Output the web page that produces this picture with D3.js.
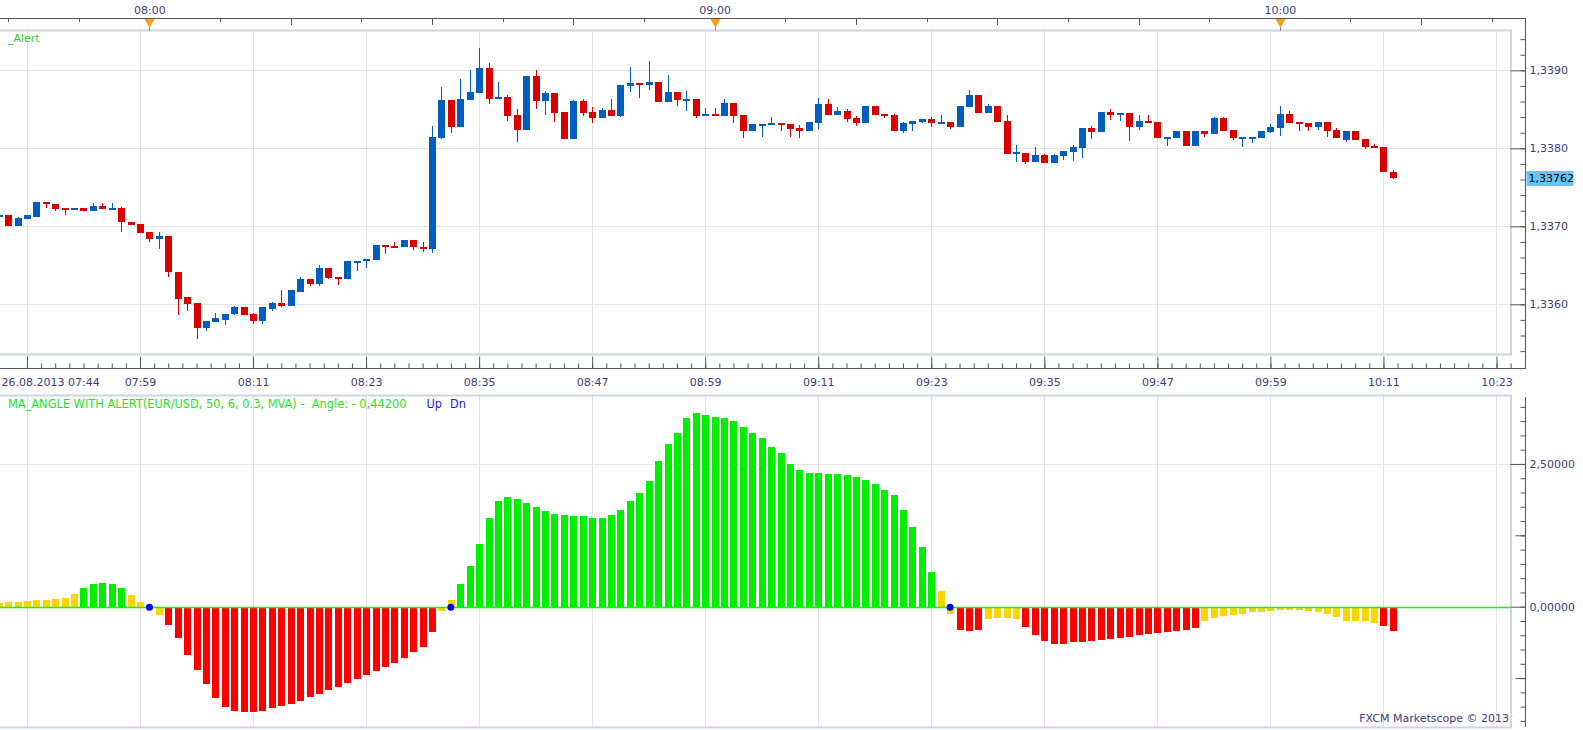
<!DOCTYPE html>
<html lang="en">
<head>
  <meta charset="UTF-8">
  <title>EUR/USD - MA_ANGLE WITH ALERT</title>
  <style>
    body {
      margin: 0;
      background: #fff;
    }
    text {
      font-family: "DejaVu Sans", sans-serif;
      font-size: 11px;
    }
  </style>
</head>
<body>
<div id="chart"></div>
<script src="https://d3js.org/d3.v7.min.js"></script>
<script type="text/javascript">

  // EUR/USD 1 minute candles, 26.08.2013, one entry per candle
  const openP = [
    1.33712, 1.33714, 1.33701, 1.33710, 1.33712, 1.33731, 1.33729, 1.33724, 1.33721, 1.33724,
    1.33720, 1.33726, 1.33722, 1.33724, 1.33706, 1.33703, 1.33693, 1.33684, 1.33687, 1.33642,
    1.33609, 1.33602, 1.33569, 1.33577, 1.33580, 1.33587, 1.33597, 1.33587, 1.33579, 1.33594,
    1.33602, 1.33598, 1.33616, 1.33633, 1.33626, 1.33647, 1.33635, 1.33633, 1.33653, 1.33655,
    1.33657, 1.33676, 1.33675, 1.33673, 1.33682, 1.33674, 1.33671, 1.33813, 1.33862, 1.33827,
    1.33862, 1.33871, 1.33903, 1.33863, 1.33866, 1.33843, 1.33824, 1.33893, 1.33861, 1.33871,
    1.33847, 1.33812, 1.33861, 1.33847, 1.33839, 1.33849, 1.33842, 1.33880, 1.33884, 1.33881,
    1.33885, 1.33859, 1.33872, 1.33862, 1.33863, 1.33842, 1.33844, 1.33842, 1.33858, 1.33843,
    1.33822, 1.33830, 1.33830, 1.33833, 1.33831, 1.33826, 1.33822, 1.33833, 1.33857, 1.33843,
    1.33848, 1.33839, 1.33833, 1.33854, 1.33844, 1.33843, 1.33822, 1.33831, 1.33834, 1.33838,
    1.33833, 1.33834, 1.33827, 1.33853, 1.33868, 1.33845, 1.33854, 1.33835, 1.33794, 1.33794,
    1.33783, 1.33792, 1.33781, 1.33790, 1.33795, 1.33801, 1.33826, 1.33821, 1.33847, 1.33843,
    1.33845, 1.33827, 1.33835, 1.33834, 1.33813, 1.33813, 1.33822, 1.33803, 1.33822, 1.33818,
    1.33839, 1.33824, 1.33813, 1.33813, 1.33813, 1.33821, 1.33826, 1.33844, 1.33834, 1.33833,
    1.33827, 1.33834, 1.33824, 1.33811, 1.33822, 1.33812, 1.33803, 1.33802, 1.33770
  ];
  const highP = [
    1.33714, 1.33714, 1.33712, 1.33714, 1.33731, 1.33731, 1.33729, 1.33724, 1.33724, 1.33724,
    1.33730, 1.33730, 1.33730, 1.33725, 1.33706, 1.33703, 1.33693, 1.33693, 1.33687, 1.33642,
    1.33610, 1.33602, 1.33578, 1.33589, 1.33588, 1.33598, 1.33597, 1.33589, 1.33596, 1.33603,
    1.33618, 1.33618, 1.33635, 1.33633, 1.33650, 1.33647, 1.33635, 1.33655, 1.33656, 1.33658,
    1.33676, 1.33676, 1.33680, 1.33682, 1.33682, 1.33680, 1.33829, 1.33879, 1.33862, 1.33889,
    1.33900, 1.33929, 1.33909, 1.33885, 1.33868, 1.33850, 1.33893, 1.33900, 1.33874, 1.33871,
    1.33847, 1.33862, 1.33863, 1.33853, 1.33852, 1.33863, 1.33881, 1.33904, 1.33884, 1.33912,
    1.33885, 1.33894, 1.33872, 1.33874, 1.33863, 1.33852, 1.33852, 1.33863, 1.33858, 1.33843,
    1.33831, 1.33831, 1.33840, 1.33833, 1.33831, 1.33830, 1.33834, 1.33865, 1.33863, 1.33853,
    1.33850, 1.33842, 1.33854, 1.33854, 1.33844, 1.33844, 1.33834, 1.33835, 1.33838, 1.33840,
    1.33843, 1.33834, 1.33854, 1.33875, 1.33868, 1.33857, 1.33854, 1.33843, 1.33804, 1.33794,
    1.33802, 1.33793, 1.33793, 1.33797, 1.33804, 1.33826, 1.33829, 1.33847, 1.33850, 1.33845,
    1.33845, 1.33843, 1.33843, 1.33834, 1.33815, 1.33822, 1.33822, 1.33822, 1.33822, 1.33840,
    1.33840, 1.33824, 1.33815, 1.33815, 1.33822, 1.33831, 1.33854, 1.33848, 1.33834, 1.33833,
    1.33834, 1.33834, 1.33826, 1.33822, 1.33822, 1.33812, 1.33806, 1.33802, 1.33772
  ];
  const lowP = [
    1.33712, 1.33701, 1.33701, 1.33710, 1.33712, 1.33724, 1.33720, 1.33714, 1.33721, 1.33720,
    1.33719, 1.33722, 1.33722, 1.33693, 1.33702, 1.33692, 1.33680, 1.33671, 1.33635, 1.33586,
    1.33592, 1.33555, 1.33566, 1.33577, 1.33574, 1.33586, 1.33586, 1.33575, 1.33575, 1.33592,
    1.33596, 1.33598, 1.33616, 1.33624, 1.33624, 1.33633, 1.33625, 1.33633, 1.33643, 1.33646,
    1.33657, 1.33664, 1.33673, 1.33673, 1.33670, 1.33667, 1.33666, 1.33812, 1.33820, 1.33827,
    1.33862, 1.33871, 1.33857, 1.33863, 1.33835, 1.33808, 1.33824, 1.33850, 1.33843, 1.33834,
    1.33812, 1.33812, 1.33842, 1.33833, 1.33839, 1.33842, 1.33840, 1.33872, 1.33865, 1.33875,
    1.33859, 1.33859, 1.33854, 1.33848, 1.33839, 1.33842, 1.33842, 1.33842, 1.33833, 1.33813,
    1.33822, 1.33815, 1.33830, 1.33822, 1.33815, 1.33813, 1.33822, 1.33825, 1.33843, 1.33843,
    1.33834, 1.33829, 1.33833, 1.33843, 1.33839, 1.33822, 1.33820, 1.33822, 1.33833, 1.33827,
    1.33833, 1.33825, 1.33827, 1.33853, 1.33845, 1.33845, 1.33834, 1.33793, 1.33783, 1.33780,
    1.33783, 1.33781, 1.33781, 1.33785, 1.33784, 1.33788, 1.33812, 1.33821, 1.33836, 1.33835,
    1.33810, 1.33824, 1.33833, 1.33813, 1.33803, 1.33813, 1.33803, 1.33803, 1.33815, 1.33818,
    1.33822, 1.33811, 1.33802, 1.33807, 1.33813, 1.33820, 1.33816, 1.33833, 1.33822, 1.33822,
    1.33824, 1.33815, 1.33813, 1.33808, 1.33811, 1.33799, 1.33801, 1.33769, 1.33761
  ];
  const closeP = [
    1.33714, 1.33701, 1.33711, 1.33714, 1.33731, 1.33728, 1.33722, 1.33721, 1.33724, 1.33720,
    1.33726, 1.33722, 1.33724, 1.33705, 1.33702, 1.33692, 1.33684, 1.33687, 1.33641, 1.33607,
    1.33601, 1.33569, 1.33578, 1.33582, 1.33588, 1.33597, 1.33586, 1.33579, 1.33596, 1.33602,
    1.33598, 1.33618, 1.33633, 1.33626, 1.33647, 1.33634, 1.33633, 1.33655, 1.33656, 1.33658,
    1.33676, 1.33674, 1.33673, 1.33682, 1.33673, 1.33671, 1.33815, 1.33862, 1.33827, 1.33863,
    1.33872, 1.33903, 1.33863, 1.33866, 1.33842, 1.33824, 1.33893, 1.33861, 1.33871, 1.33845,
    1.33812, 1.33861, 1.33845, 1.33839, 1.33849, 1.33842, 1.33881, 1.33884, 1.33881, 1.33885,
    1.33859, 1.33872, 1.33862, 1.33863, 1.33842, 1.33844, 1.33842, 1.33858, 1.33842, 1.33822,
    1.33831, 1.33831, 1.33833, 1.33830, 1.33825, 1.33822, 1.33834, 1.33857, 1.33843, 1.33848,
    1.33838, 1.33833, 1.33854, 1.33843, 1.33842, 1.33822, 1.33833, 1.33835, 1.33838, 1.33833,
    1.33834, 1.33827, 1.33854, 1.33868, 1.33845, 1.33854, 1.33834, 1.33793, 1.33795, 1.33783,
    1.33792, 1.33781, 1.33792, 1.33797, 1.33802, 1.33826, 1.33821, 1.33847, 1.33843, 1.33845,
    1.33827, 1.33835, 1.33833, 1.33813, 1.33815, 1.33822, 1.33803, 1.33822, 1.33818, 1.33839,
    1.33822, 1.33813, 1.33815, 1.33815, 1.33822, 1.33827, 1.33844, 1.33833, 1.33831, 1.33827,
    1.33834, 1.33822, 1.33813, 1.33822, 1.33811, 1.33802, 1.33801, 1.33769, 1.33762
  ];

  // MA angle histogram, one value per candle
  const angle = [
    0.07, 0.08, 0.09, 0.10, 0.11, 0.12, 0.14, 0.16,
    0.22, 0.33, 0.40, 0.42, 0.40, 0.33, 0.20, 0.08,
    -0.02, -0.14, -0.32, -0.55, -0.85, -1.10, -1.35, -1.60,
    -1.75, -1.83, -1.85, -1.84, -1.82, -1.78, -1.74, -1.70,
    -1.65, -1.58, -1.52, -1.46, -1.40, -1.33, -1.27, -1.20,
    -1.13, -1.06, -0.98, -0.90, -0.80, -0.70, -0.45, -0.08,
    0.12, 0.40, 0.72, 1.10, 1.55, 1.85, 1.92, 1.88,
    1.82, 1.75, 1.68, 1.62, 1.60, 1.58, 1.58, 1.55,
    1.55, 1.60, 1.70, 1.85, 2.00, 2.20, 2.55, 2.85,
    3.05, 3.30, 3.40, 3.36, 3.33, 3.30, 3.25, 3.15,
    3.05, 2.95, 2.80, 2.70, 2.50, 2.40, 2.35, 2.35,
    2.33, 2.33, 2.30, 2.28, 2.22, 2.15, 2.05, 1.95,
    1.70, 1.40, 1.05, 0.60, 0.27, -0.12, -0.40, -0.42,
    -0.40, -0.22, -0.20, -0.20, -0.22, -0.35, -0.50, -0.60,
    -0.65, -0.65, -0.62, -0.62, -0.60, -0.58, -0.56, -0.55,
    -0.53, -0.50, -0.48, -0.46, -0.45, -0.42, -0.40, -0.38,
    -0.25, -0.20, -0.17, -0.15, -0.12, -0.10, -0.10, -0.08, -0.06, -0.06,
    -0.06, -0.07, -0.09, -0.12, -0.175, -0.245, -0.245, -0.245, -0.28, -0.33, -0.42
  ];
  const threshold = 0.3;          // indicator parameter: |angle| above it is a trend
  const alertIdx = [16, 48, 101]; // zero-cross alert dots (candle index)

  // axis labels
  const bottomLabels = ["26.08.2013 07:44", "07:59", "08:11", "08:23", "08:35", "08:47", "08:59",
                        "09:11", "09:23", "09:35", "09:47", "09:59", "10:11", "10:23"];
  const topLabels = ["08:00", "09:00", "10:00"];
  const topLabelIdx = [16, 76, 136];
  const priceTicks = [1.3360, 1.3370, 1.3380, 1.3390];
  const angleTicks = [0, 2.5];
  const lastPrice = 1.33762;

  // sizes
  var w = 1583;
  var h = 730;
  var plotRight = 1511;
  var axisX = 1525.5;
  var main = {top: 31, bottom: 355};
  var ind = {top: 396, bottom: 728};
  var textColor = "#3d3d7a";
  var gridColor = "#e3e3e3";

  var svg = d3.select("#chart")
          .append("svg")
          .attr("width", w)
          .attr("height", h);

  // scales: candle index -> x, price -> y, angle -> y
  const x = d3.scaleLinear().domain([0, 160]).range([-1.3, 1505.9]);
  const yP = d3.scaleLinear().domain([1.33535, 1.339504]).range([main.bottom, main.top]);
  const yA = d3.scaleLinear().domain([-2.124, 3.69]).range([ind.bottom, ind.top]);

  const data = openP.map((o, i) => ({i: i, o: o, h: highP[i], l: lowP[i], c: closeP[i], a: angle[i]}));
  const gridIdx = bottomLabels.map((d, j) => 3 + 12 * j);

  // clip paths for the two panels
  var defs = svg.append("defs");
  defs.append("clipPath").attr("id", "clipMain")
          .append("rect").attr("x", 0).attr("y", main.top).attr("width", plotRight).attr("height", main.bottom - main.top);
  defs.append("clipPath").attr("id", "clipInd")
          .append("rect").attr("x", 0).attr("y", ind.top).attr("width", plotRight).attr("height", ind.bottom - ind.top);

  // ---------- grid ----------
  function vGrid(panel) {
    svg.append("g")
            .selectAll("line")
            .data(gridIdx.filter(n => x(n) < plotRight))
            .enter()
            .append("line")
            .attr("x1", d => Math.round(x(d)) + 0.5)
            .attr("x2", d => Math.round(x(d)) + 0.5)
            .attr("y1", panel.top)
            .attr("y2", panel.bottom)
            .attr("stroke", gridColor);
  }
  vGrid(main);
  vGrid(ind);

  svg.append("g")
          .selectAll("line")
          .data(priceTicks)
          .enter()
          .append("line")
          .attr("x1", 0)
          .attr("x2", plotRight)
          .attr("y1", d => Math.round(yP(d)) + 0.5)
          .attr("y2", d => Math.round(yP(d)) + 0.5)
          .attr("stroke", gridColor);

  svg.append("line")
          .attr("x1", 0)
          .attr("x2", plotRight)
          .attr("y1", Math.round(yA(2.5)) + 0.5)
          .attr("y2", Math.round(yA(2.5)) + 0.5)
          .attr("stroke", gridColor);

  // ---------- candles ----------
  var candles = svg.append("g")
          .attr("clip-path", "url(#clipMain)")
          .attr("shape-rendering", "crispEdges")
          .selectAll("g")
          .data(data)
          .enter()
          .append("g")
          .attr("fill", d => d.c >= d.o ? "#005ebf" : "#db0000")
          .attr("stroke", "none");

  candles.append("rect")
          .attr("x", d => Math.round(x(d.i)))
          .attr("width", 1)
          .attr("y", d => yP(d.h))
          .attr("height", d => Math.max(1, yP(d.l) - yP(d.h)));

  candles.append("rect")
          .attr("x", d => Math.round(x(d.i)) - 3)
          .attr("width", 7)
          .attr("y", d => yP(Math.max(d.o, d.c)))
          .attr("height", d => Math.max(2, Math.abs(yP(d.o) - yP(d.c))));

  // ---------- MA angle histogram ----------
  function barColor(v) {
    if (v > threshold) return "#00f000";
    if (v < -threshold) return "#ff0000";
    return "#ffd400";
  }

  svg.append("g")
          .attr("clip-path", "url(#clipInd)")
          .attr("shape-rendering", "crispEdges")
          .selectAll("rect")
          .data(data)
          .enter()
          .append("rect")
          .attr("x", d => Math.round(x(d.i)) - 3)
          .attr("width", 7)
          .attr("y", d => yA(Math.max(0, d.a)))
          .attr("height", d => Math.abs(yA(d.a) - yA(0)))
          .attr("fill", d => barColor(d.a));

  // zero line
  svg.append("line")
          .attr("x1", 0)
          .attr("x2", plotRight)
          .attr("y1", Math.round(yA(0)) + 0.5)
          .attr("y2", Math.round(yA(0)) + 0.5)
          .attr("stroke", "#00ff00")
          .attr("stroke-width", 1.5);

  // alert dots
  svg.append("g")
          .selectAll("circle")
          .data(alertIdx)
          .enter()
          .append("circle")
          .attr("cx", d => x(d))
          .attr("cy", yA(0) + 0.5)
          .attr("r", 3.5)
          .attr("fill", "#0000ff");

  // ---------- panel frames ----------
  [main, ind].forEach(p => {
    svg.append("rect")
            .attr("x", -1)
            .attr("y", p.top - 0.5)
            .attr("width", plotRight + 1)
            .attr("height", p.bottom - p.top)
            .attr("fill", "none")
            .attr("stroke", "#cdd5e1")
            .attr("stroke-width", 2);
  });

  // ---------- top time axis ----------
  var topTicks = d3.range(-2, 20).map(m => 16 + 7.5 * m);
  svg.append("line")
          .attr("x1", 0).attr("x2", axisX)
          .attr("y1", 18.5).attr("y2", 18.5)
          .attr("stroke", "#555");
  svg.append("g")
          .selectAll("line")
          .data(topTicks.filter((d, m) => (m - 2) % 8 !== 0))
          .enter()
          .append("line")
          .attr("x1", d => Math.round(x(d)) + 0.5)
          .attr("x2", d => Math.round(x(d)) + 0.5)
          .attr("y1", 18.5)
          .attr("y2", d => ((d - 16) / 7.5) % 2 === 0 && d > 16 ? 25 : 22)
          .attr("stroke", "#555");

  var topAxis = svg.append("g")
          .attr("transform", "translate(0,18.5)")
          .call(d3.axisTop(x).tickValues(topLabelIdx).tickSize(0).tickPadding(5)
                  .tickFormat((d, i) => topLabels[i]));
  topAxis.select(".domain").remove();
  topAxis.selectAll("text")
          .attr("font-size", 11)
          .attr("font-family", "DejaVu Sans, sans-serif")
          .attr("fill", textColor);

  // hour markers
  var markers = svg.append("g").selectAll("g").data(topLabelIdx).enter().append("g");
  markers.append("line")
          .attr("x1", d => Math.round(x(d)) + 0.5)
          .attr("x2", d => Math.round(x(d)) + 0.5)
          .attr("y1", 19).attr("y2", 31)
          .attr("stroke", "#888");
  markers.append("path")
          .attr("d", d => {
            var cx = Math.round(x(d)) + 0.5;
            return `M${cx - 5},19 L${cx + 5},19 L${cx},28 Z`;
          })
          .attr("fill", "#f6a21e");

  // ---------- bottom time axis ----------
  svg.append("line")
          .attr("x1", 0).attr("x2", axisX)
          .attr("y1", 368.5).attr("y2", 368.5)
          .attr("stroke", "#555");

  var minorIdx = d3.range(0, 107).map(m => 3 + 1.5 * m).filter(n => x(n) <= plotRight);
  svg.append("g")
          .attr("transform", "translate(0,368.5)")
          .call(d3.axisBottom(x).tickValues(minorIdx).tickSize(-5).tickFormat(""))
          .call(g => g.select(".domain").remove())
          .selectAll("line").attr("stroke", "#555");

  var bottomAxis = svg.append("g")
          .attr("transform", "translate(0,368.5)")
          .call(d3.axisBottom(x).tickValues(gridIdx).tickSize(-12).tickPadding(10)
                  .tickFormat((d, i) => bottomLabels[i]));
  bottomAxis.select(".domain").remove();
  bottomAxis.selectAll("line").attr("stroke", "#555");
  bottomAxis.selectAll("text")
          .attr("font-size", 11)
          .attr("font-family", "DejaVu Sans, sans-serif")
          .attr("fill", textColor);
  // first label starts at the left edge
  bottomAxis.select(".tick text")
          .attr("text-anchor", "start")
          .attr("x", 1 - x(gridIdx[0]));

  // ---------- right price axis ----------
  svg.append("line")
          .attr("x1", axisX).attr("x2", axisX)
          .attr("y1", 18).attr("y2", 369)
          .attr("stroke", "#555");

  svg.append("g")
          .attr("transform", `translate(${axisX},0)`)
          .call(d3.axisRight(yP).tickValues(d3.range(1.3354, 1.3396, 0.0002)).tickSize(-5).tickFormat(""))
          .call(g => g.select(".domain").remove())
          .selectAll("line").attr("stroke", "#555");

  var priceAxis = svg.append("g")
          .attr("transform", `translate(${axisX},0)`)
          .call(d3.axisRight(yP).tickValues(priceTicks).tickSize(-15).tickPadding(4)
                  .tickFormat(d => d.toFixed(4).replace(".", ",")));
  priceAxis.select(".domain").remove();
  priceAxis.selectAll("line").attr("stroke", "#555");
  priceAxis.selectAll("text")
          .attr("font-size", 11)
          .attr("font-family", "DejaVu Sans, sans-serif")
          .attr("fill", textColor);

  // last price box
  svg.append("rect")
          .attr("x", axisX + 1)
          .attr("y", Math.round(yP(lastPrice)) - 7)
          .attr("width", 47)
          .attr("height", 15)
          .attr("fill", "#63c6f5");
  svg.append("text")
          .attr("x", axisX + 3)
          .attr("y", Math.round(yP(lastPrice)) + 4)
          .attr("fill", "#000")
          .text(lastPrice.toFixed(5).replace(".", ","));

  // ---------- right angle axis ----------
  svg.append("line")
          .attr("x1", axisX).attr("x2", axisX)
          .attr("y1", ind.top + 1).attr("y2", ind.bottom - 1)
          .attr("stroke", "#555");

  svg.append("g")
          .attr("transform", `translate(${axisX},0)`)
          .call(d3.axisRight(yA).tickValues(d3.range(-2, 3.7, 0.25)).tickSize(-5).tickFormat(""))
          .call(g => g.select(".domain").remove())
          .selectAll("line").attr("stroke", "#555");
  svg.append("g")
          .attr("transform", `translate(${axisX},0)`)
          .call(d3.axisRight(yA).tickValues([-1.25, 1.25]).tickSize(-10).tickFormat(""))
          .call(g => g.select(".domain").remove())
          .selectAll("line").attr("stroke", "#555");

  var angleAxis = svg.append("g")
          .attr("transform", `translate(${axisX},0)`)
          .call(d3.axisRight(yA).tickValues(angleTicks).tickSize(-15).tickPadding(4)
                  .tickFormat(d => d.toFixed(5).replace(".", ",")));
  angleAxis.select(".domain").remove();
  angleAxis.selectAll("line").attr("stroke", "#555");
  angleAxis.selectAll("text")
          .attr("font-size", 11)
          .attr("font-family", "DejaVu Sans, sans-serif")
          .attr("fill", textColor);

  // ---------- labels ----------
  svg.append("text")
          .attr("x", 8)
          .attr("y", 42)
          .attr("fill", "#2fc92f")
          .text("_Alert");

  var legend = svg.append("text")
          .attr("x", 8)
          .attr("y", 408)
          .style("font-size", "11.4px");
  legend.append("tspan")
          .attr("fill", "#1fe51f")
          .attr("xml:space", "preserve")
          .text("MA_ANGLE WITH ALERT(EUR/USD, 50, 6, 0.3, MVA) -  Angle: - 0,44200");
  legend.append("tspan")
          .attr("fill", "#1a1aee")
          .attr("dx", 20)
          .text("Up");
  legend.append("tspan")
          .attr("fill", "#1a1aee")
          .attr("dx", 8)
          .text("Dn");

  svg.append("text")
          .attr("x", 1509)
          .attr("y", 722)
          .attr("text-anchor", "end")
          .attr("fill", textColor)
          .text("FXCM Marketscope \u00a9 2013");

</script>
</body>
</html>
